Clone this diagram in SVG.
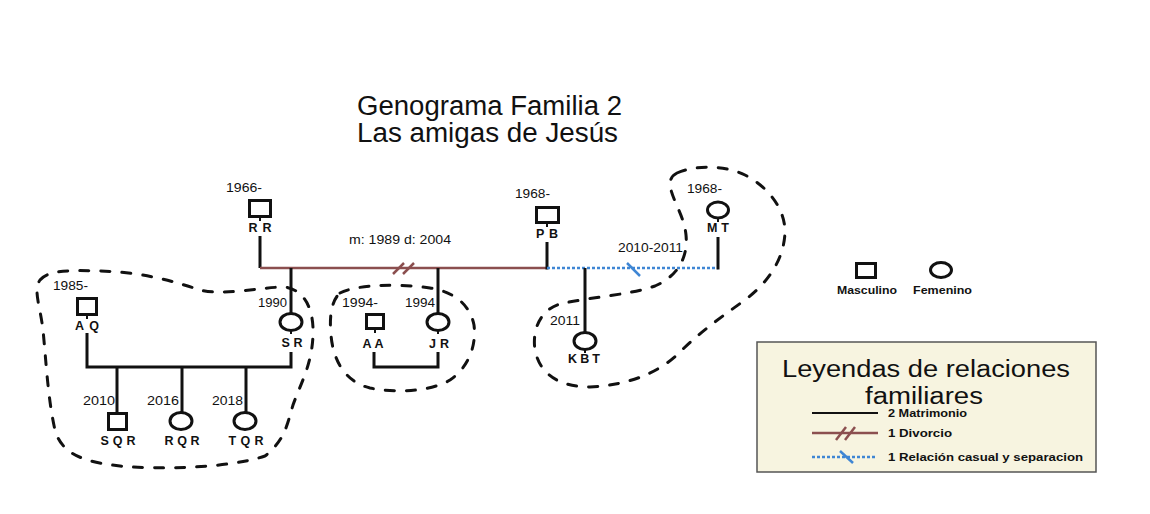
<svg xmlns="http://www.w3.org/2000/svg" width="1150" height="514" viewBox="0 0 1150 514">
<style>
text{font-family:"Liberation Sans",Arial,sans-serif;fill:#111}
.title{font-size:27px}
.lgt{font-size:23px}
.yr{font-size:12px}
.nm{font-size:12.5px;font-weight:bold}
.lg{font-size:11px;font-weight:bold}
.sym{fill:none;stroke:#111;stroke-width:3}
.ln{stroke:#111;stroke-width:3;fill:none}
.stub{stroke:#111;stroke-width:2}
.div{stroke:#8b4f4f;stroke-width:2.5;fill:none}
.cas{stroke:#3f86d4;stroke-width:2.5;fill:none;stroke-dasharray:3 2}
.slash{stroke-width:2.5;fill:none}
.blob{fill:none;stroke:#111;stroke-width:3;stroke-dasharray:9 12;stroke-linecap:round}
</style>
<rect width="1150" height="514" fill="#ffffff"/>
<g id="title">
<text class="title" x="357" y="115" textLength="265" lengthAdjust="spacingAndGlyphs">Genograma Familia 2</text>
<text class="title" x="357" y="142" textLength="261" lengthAdjust="spacingAndGlyphs">Las amigas de Jesús</text>
</g>
<g id="groups">
<path class="blob" d="M 40,280 C 48,270 70,270 100,271 C 140,272 170,280 200,290 C 225,296 260,287 285,287 C 305,290 314,310 313,335 C 312,365 300,385 293,405 C 287,425 285,440 265,456 C 230,468 160,470 120,466 C 85,462 62,455 55,430 C 48,400 46,360 43,330 C 40,305 33,290 40,280 Z"/>
<path class="blob" d="M 340,293 C 355,285 395,283 430,288 C 455,292 470,305 474,325 C 477,350 465,370 450,380 C 430,392 395,393 370,388 C 345,382 333,360 331,335 C 329,315 332,300 340,293 Z"/>
<path class="blob" d="M 677,173 C 695,165 725,165 745,175 C 770,188 785,210 785,232 C 784,262 765,285 745,300 C 720,318 700,332 680,352 C 660,372 630,385 590,387 C 560,387 540,375 535,350 C 532,330 540,310 560,304 C 590,297 630,295 655,286 C 680,275 688,255 686,235 C 684,215 672,200 670,185 C 670,178 673,175 677,173 Z"/>
</g>
<g id="connectors">
<line class="ln" x1="260" y1="236" x2="260" y2="268"/>
<line class="div" x1="260" y1="268" x2="547" y2="268"/>
<line class="div slash" x1="393" y1="274" x2="404" y2="263"/>
<line class="div slash" x1="403" y1="274" x2="414" y2="263"/>
<text class="yr" x="349" y="244" textLength="102" lengthAdjust="spacingAndGlyphs">m: 1989  d: 2004</text>
<line class="ln" x1="547" y1="242" x2="547" y2="269.5"/>
<line class="cas" x1="547" y1="268" x2="718" y2="268"/>
<line class="slash" stroke="#3f86d4" x1="627" y1="263" x2="640" y2="276"/>
<text class="yr" x="618" y="252" textLength="65" lengthAdjust="spacingAndGlyphs">2010-2011</text>
<line class="ln" x1="718" y1="237" x2="718" y2="269.5"/>
<line class="ln" x1="291" y1="268" x2="291" y2="313"/>
<line class="ln" x1="438" y1="268" x2="438" y2="313"/>
<line class="ln" x1="585" y1="268" x2="585" y2="332"/>
<polyline class="ln" points="87,333 87,367 291,367 291,352"/>
<line class="ln" x1="117" y1="367" x2="117" y2="412"/>
<line class="ln" x1="182" y1="367" x2="182" y2="412"/>
<line class="ln" x1="246" y1="367" x2="246" y2="412"/>
<polyline class="ln" points="374,352 374,367 438,367 438,352"/>
</g>
<g id="node-RR">
<rect class="sym" x="249.5" y="200.5" width="21" height="16"/>
<line class="stub" x1="260" y1="217" x2="260" y2="221"/>
<text class="yr" x="226" y="192" textLength="36" lengthAdjust="spacingAndGlyphs">1966-</text>
<text class="nm" x="260" y="232" text-anchor="middle" textLength="23" lengthAdjust="spacing">RR</text>
</g>
<g id="node-PB">
<rect class="sym" x="536.5" y="207.5" width="22" height="15"/>
<line class="stub" x1="547" y1="223" x2="547" y2="227"/>
<text class="yr" x="515" y="198" textLength="35" lengthAdjust="spacingAndGlyphs">1968-</text>
<text class="nm" x="547" y="238" text-anchor="middle" textLength="22" lengthAdjust="spacing">PB</text>
</g>
<g id="node-MT">
<ellipse class="sym" cx="718" cy="210" rx="10.5" ry="8"/>
<line class="stub" x1="718" y1="218" x2="718" y2="222"/>
<text class="yr" x="687" y="193" textLength="35" lengthAdjust="spacingAndGlyphs">1968-</text>
<text class="nm" x="718" y="232" text-anchor="middle" textLength="22" lengthAdjust="spacing">MT</text>
</g>
<g id="node-AQ">
<rect class="sym" x="77.5" y="298.5" width="19" height="16"/>
<line class="stub" x1="87" y1="315" x2="87" y2="319"/>
<text class="yr" x="53" y="290" textLength="35" lengthAdjust="spacingAndGlyphs">1985-</text>
<text class="nm" x="87" y="330" text-anchor="middle" textLength="24" lengthAdjust="spacing">AQ</text>
</g>
<g id="node-SR">
<ellipse class="sym" cx="291" cy="322" rx="11" ry="8.5"/>
<line class="stub" x1="291" y1="330" x2="291" y2="334"/>
<text class="yr" x="258" y="307" textLength="29" lengthAdjust="spacingAndGlyphs">1990</text>
<text class="nm" x="292" y="347" text-anchor="middle" textLength="21" lengthAdjust="spacing">SR</text>
</g>
<g id="node-AA">
<rect class="sym" x="366.5" y="314.5" width="17" height="14"/>
<line class="stub" x1="375" y1="329" x2="375" y2="333"/>
<text class="yr" x="342" y="307" textLength="36" lengthAdjust="spacingAndGlyphs">1994-</text>
<text class="nm" x="373" y="348" text-anchor="middle" textLength="21" lengthAdjust="spacing">AA</text>
</g>
<g id="node-JR">
<ellipse class="sym" cx="438" cy="322" rx="11" ry="8.5"/>
<line class="stub" x1="438" y1="330" x2="438" y2="334"/>
<text class="yr" x="405" y="307" textLength="30" lengthAdjust="spacingAndGlyphs">1994</text>
<text class="nm" x="439" y="348" text-anchor="middle" textLength="20" lengthAdjust="spacing">JR</text>
</g>
<g id="node-KBT">
<ellipse class="sym" cx="585" cy="341" rx="11" ry="8.5"/>
<line class="stub" x1="585" y1="349" x2="585" y2="353"/>
<text class="yr" x="550" y="325" textLength="30" lengthAdjust="spacingAndGlyphs">2011</text>
<text class="nm" x="584" y="363" text-anchor="middle" textLength="32" lengthAdjust="spacing">KBT</text>
</g>
<g id="node-SQR">
<rect class="sym" x="108.5" y="413.5" width="18" height="16"/>
<text class="yr" x="83" y="405" textLength="32" lengthAdjust="spacingAndGlyphs">2010</text>
<text class="nm" x="118" y="445" text-anchor="middle" textLength="35" lengthAdjust="spacing">SQR</text>
</g>
<g id="node-RQR">
<ellipse class="sym" cx="181" cy="421" rx="11" ry="8.5"/>
<text class="yr" x="147" y="405" textLength="32" lengthAdjust="spacingAndGlyphs">2016</text>
<text class="nm" x="182" y="445" text-anchor="middle" textLength="35" lengthAdjust="spacing">RQR</text>
</g>
<g id="node-TQR">
<ellipse class="sym" cx="245" cy="421" rx="11" ry="8.5"/>
<text class="yr" x="212" y="405" textLength="31" lengthAdjust="spacingAndGlyphs">2018</text>
<text class="nm" x="246" y="445" text-anchor="middle" textLength="35" lengthAdjust="spacing">TQR</text>
</g>
<g id="symbol-key">
<rect class="sym" x="856.5" y="263.5" width="19" height="14"/>
<ellipse class="sym" cx="941" cy="270" rx="10.5" ry="7.5"/>
<text class="lg" x="837" y="294" textLength="60" lengthAdjust="spacingAndGlyphs">Masculino</text>
<text class="lg" x="913" y="294" textLength="59" lengthAdjust="spacingAndGlyphs">Femenino</text>
</g>
<g id="legend">
<rect x="757" y="342" width="339" height="130" fill="#f7f4e0" stroke="#555" stroke-width="1.5"/>
<text class="lgt" x="926" y="377" text-anchor="middle" textLength="288" lengthAdjust="spacingAndGlyphs">Leyendas de relaciones</text>
<text class="lgt" x="924" y="404" text-anchor="middle" textLength="118" lengthAdjust="spacingAndGlyphs">familiares</text>
<line stroke="#111" stroke-width="2" x1="812" y1="413" x2="878" y2="413"/>
<text class="lg" x="888" y="417" textLength="79" lengthAdjust="spacingAndGlyphs">2 Matrimonio</text>
<line class="div" x1="812" y1="433" x2="878" y2="433"/>
<line class="div slash" x1="836" y1="440" x2="846" y2="427"/>
<line class="div slash" x1="845" y1="440" x2="855" y2="427"/>
<text class="lg" x="888" y="437" textLength="64" lengthAdjust="spacingAndGlyphs">1 Divorcio</text>
<line class="cas" x1="812" y1="457" x2="876" y2="457"/>
<line class="slash" stroke="#3f86d4" x1="840" y1="451" x2="853" y2="463"/>
<text class="lg" x="888" y="461" textLength="195" lengthAdjust="spacingAndGlyphs">1 Relación casual y separacion</text>
</g>
</svg>
